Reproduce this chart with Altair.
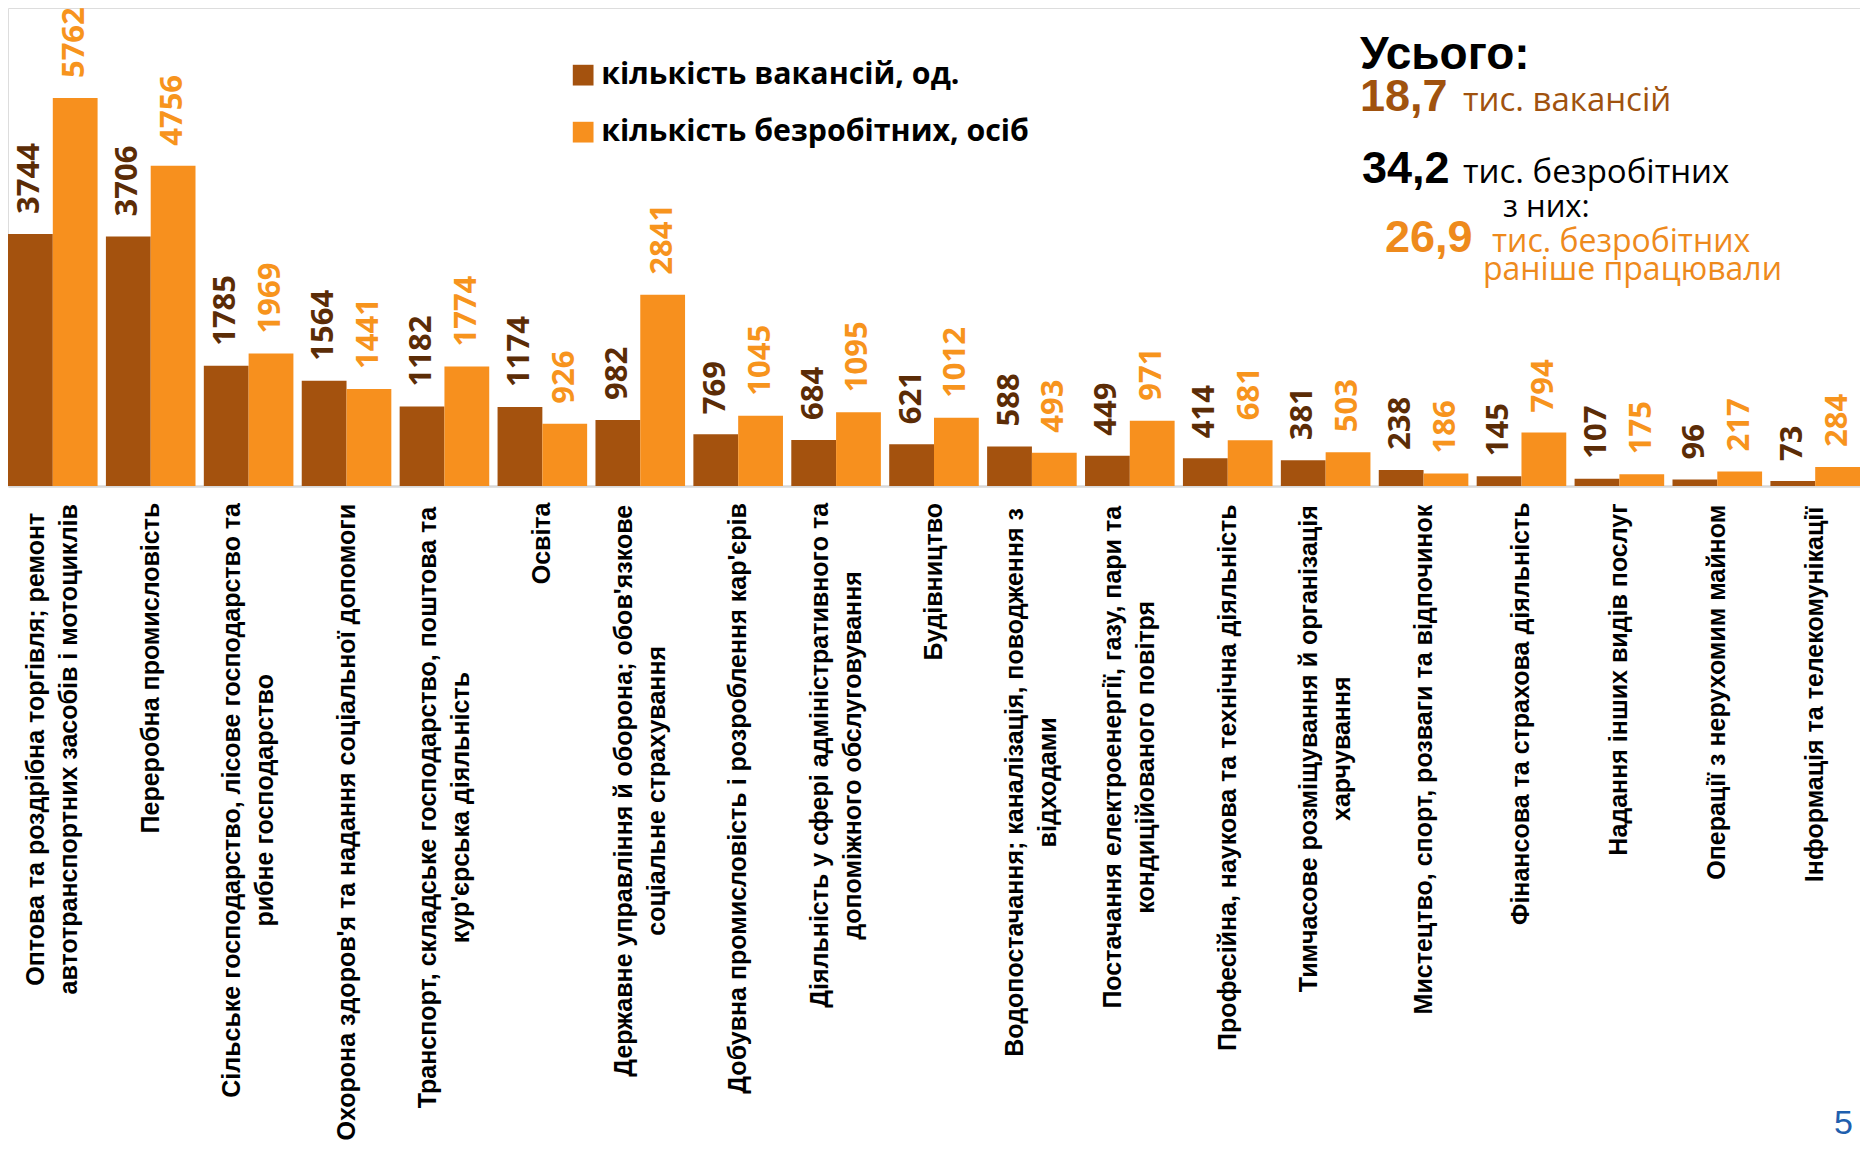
import altair as alt
import pandas as pd

# ---------------- data ----------------
categories = [
    "Оптова та роздрібна торгівля; ремонт\nавтотранспортних засобів і мотоциклів",
    "Переробна промисловість",
    "Сільське господарство, лісове господарство та\nрибне господарство",
    "Охорона здоров'я та надання соціальної допомоги",
    "Транспорт, складське господарство, поштова та\nкур'єрська діяльність",
    "Освіта",
    "Державне управління й оборона; обов'язкове\nсоціальне страхування",
    "Добувна промисловість і розроблення кар'єрів",
    "Діяльність у сфері адміністративного та\nдопоміжного обслуговування",
    "Будівництво",
    "Водопостачання; каналізація, поводження з\nвідходами",
    "Постачання електроенергії, газу, пари та\nкондиційованого повітря",
    "Професійна, наукова та технічна діяльність",
    "Тимчасове розміщування й організація\nхарчування",
    "Мистецтво, спорт, розваги та відпочинок",
    "Фінансова та страхова діяльність",
    "Надання інших видів послуг",
    "Операції з нерухомим майном",
    "Інформація та телекомунікації",
]
vacancies = [3744, 3706, 1785, 1564, 1182, 1174, 982, 769, 684, 621, 588, 449, 414, 381, 238, 145, 107, 96, 73]
unemployed = [5762, 4756, 1969, 1441, 1774, 926, 2841, 1045, 1095, 1012, 493, 971, 681, 503, 186, 794, 175, 217, 284]
series_names = ["кількість вакансій, од.", "кількість безробітних, осіб"]

# ---------------- styling ----------------
BAR_COLORS = ["#a4520e", "#f7901e"]
VAL_COLORS = ["#5b2c06", "#f7941d"]
LABEL_FONT = "Liberation Sans"
LABEL_SIZE = 25
LINE_H = 33
H = 478
W = 1852

# approximate Liberation Sans Bold advance widths (em) for label centring
_w = {}
for ch, v in zip("АБВГДЕЖЗИЙКЛМНОПРСТУФХЦЧШЩЬЮЯІЄЇ",
                 [.722, .719, .722, .594, .719, .667, 1.0, .656, .722, .722, .615, .708, .833, .722, .778, .722,
                  .667, .722, .611, .667, .854, .667, .740, .698, 1.0, 1.02, .719, 1.05, .740, .278, .722, .278]):
    _w[ch] = v
for ch, v in zip("абвгдежзийклмнопрстуфхцчшщьюяієї",
                 [.556, .615, .573, .417, .635, .556, .885, .490, .615, .615, .563, .615, .750, .615, .611, .615,
                  .611, .556, .490, .556, .885, .556, .635, .583, .885, .906, .594, .854, .594, .278, .556, .278]):
    _w[ch] = v
_w.update({" ": .278, ",": .278, ";": .333, "'": .238, ".": .278})


def line_px(s):
    return sum(_w.get(c, .56) for c in s) * LABEL_SIZE


rows = []
for c, v, u in zip(categories, vacancies, unemployed):
    rows.append({"cat": c, "series": series_names[0], "value": v})
    rows.append({"cat": c, "series": series_names[1], "value": u})
bars_df = pd.DataFrame(rows)

lab_df = pd.DataFrame({
    "cat": categories,
    "lines": [c.count("\n") + 1 for c in categories],
    "pos": [17 + max(line_px(l) for l in c.split("\n")) / 2 for c in categories],
})

x_enc = alt.X("cat:N", sort=categories,
              scale=alt.Scale(paddingInner=0.085, paddingOuter=0),
              axis=alt.Axis(labels=False, ticks=False, domain=True, domainColor="#d9d9d9",
                            domainWidth=2.5, title=None, grid=False))
xo_enc = alt.XOffset("series:N", sort=series_names, scale=alt.Scale(paddingInner=0, paddingOuter=0))
y_enc = alt.Y("value:Q", scale=alt.Scale(domain=[0, 7100], nice=False, zero=True), axis=None)

bars = alt.Chart(bars_df).mark_bar(stroke=None).encode(
    x=x_enc, xOffset=xo_enc, y=y_enc,
    color=alt.Color("series:N", sort=series_names,
                    scale=alt.Scale(domain=series_names, range=BAR_COLORS),
                    legend=alt.Legend(title=None, orient="none", legendX=560, legendY=52,
                                      symbolType="square", symbolSize=430, symbolStrokeWidth=0,
                                      symbolOpacity=1, labelFont="Open Sans", labelFontSize=30.3,
                                      labelFontWeight="bold", labelColor="#000000", labelLimit=0,
                                      labelOffset=3, rowPadding=26, padding=0)),
)

vals = alt.Chart(bars_df).mark_text(angle=270, align="left", baseline="middle", dx=20,
                                    font="Open Sans", fontSize=31, fontWeight="bold").encode(
    x=x_enc, xOffset=xo_enc, y=y_enc,
    text=alt.Text("value:Q", format="d"),
    color=alt.Color("series:N", scale=alt.Scale(domain=series_names, range=VAL_COLORS), legend=None),
)

lab_y = alt.Y("pos:Q", scale=alt.Scale(domain=[0, -H], nice=False, zero=False), axis=None)


def cat_layer(n_lines):
    return alt.Chart(lab_df).transform_filter(alt.datum.lines == n_lines).mark_text(
        angle=270, align="center", baseline="middle", lineBreak="\n", lineHeight=LINE_H,
        dy=-(n_lines - 1) * LINE_H / 2, font=LABEL_FONT, fontSize=LABEL_SIZE,
        fontWeight="bold", color="#000000",
    ).encode(x=x_enc, y=lab_y, text="cat:N")


def note(text, x, y, size, color, font="Liberation Sans", weight="bold"):
    return alt.Chart(pd.DataFrame({"t": [text]})).mark_text(
        align="left", baseline="alphabetic", font=font, fontSize=size, fontWeight=weight, color=color
    ).encode(x=alt.value(x), y=alt.value(y), text="t:N")


BROWN_T = "#a0520e"
ORANGE_T = "#ee8a1c"
notes = [
    note("Усього:", 1352, 61, 46, "#000000"),
    note("18,7", 1352, 103, 45, BROWN_T),
    note("тис. вакансій", 1455, 103, 33, BROWN_T, "Open Sans", "normal"),
    note("34,2", 1354, 175, 45, "#000000"),
    note("тис. безробітних", 1455, 175, 33, "#000000", "Open Sans", "normal"),
    note("з них:", 1495, 209, 31, "#000000", "Open Sans", "normal"),
    note("26,9", 1377, 244, 45, ORANGE_T),
    note("тис. безробітних", 1484, 244, 32, ORANGE_T, "Open Sans", "normal"),
    note("раніше працювали", 1475, 272, 32, ORANGE_T, "Open Sans", "normal"),
    note("5", 1826, 1126, 34, "#1f5fae", "Liberation Sans", "normal"),
]

chart = alt.layer(bars, vals, cat_layer(1), cat_layer(2), *notes).resolve_scale(
    color="independent", y="independent"
).properties(
    width=W, height=H,
    autosize=alt.AutoSizeParams(type="none"),
    padding={"left": 0, "right": 0, "top": 0, "bottom": 656},
).configure_view(stroke=None).configure(background="#ffffff")

chart.save("out.html", embed_options={"renderer": "svg", "actions": False})
